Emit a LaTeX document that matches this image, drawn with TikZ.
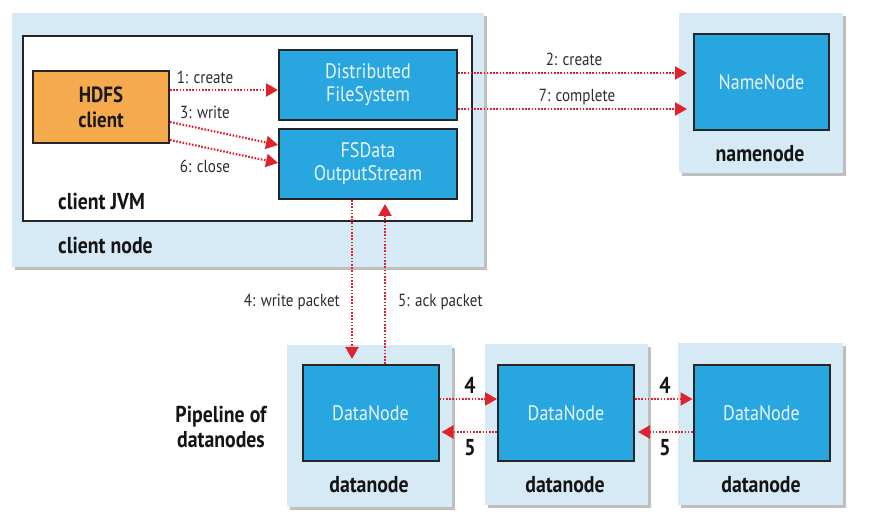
\documentclass[tikz,border=0pt]{standalone}
\usepackage{fontspec}
\setmainfont{PT Sans}[FakeStretch=0.86]
\usetikzlibrary{arrows.meta,shadows}
\definecolor{pale}{RGB}{214,234,246}
\definecolor{boxblue}{RGB}{40,166,223}
\definecolor{boxorange}{RGB}{246,170,78}
\definecolor{arrred}{RGB}{222,35,45}
\definecolor{lbl}{RGB}{45,45,45}
\definecolor{wtxt}{RGB}{232,245,252}
\tikzset{
  host/.style={fill=pale, draw=none, minimum width=#1, anchor=center, inner sep=0pt,
    drop shadow={shadow xshift=3pt, shadow yshift=-3pt, fill=black!45, opacity=0.55}},
  jvmbox/.style={fill=white, draw=black!85, line width=2pt, inner sep=0pt},
  bluebox/.style={fill=boxblue, draw=black!85, line width=2pt, inner sep=0pt, text=wtxt,
    font=\fontsize{21}{23}\selectfont, align=center},
  orangebox/.style={fill=boxorange, draw=black!85, line width=2pt, inner sep=0pt, text=black!90,
    font=\bfseries\fontsize{22}{25}\selectfont, align=center},
  steplbl/.style={text=lbl, font=\fontsize{17.5}{19}\selectfont, inner sep=1pt},
  boldlbl/.style={text=black!92, font=\bfseries\fontsize{23}{24}\selectfont, inner sep=1pt, align=center},
  arr/.style={draw=arrred, line width=2.2pt, dash pattern=on 1.6pt off 1.6pt,
    -{Triangle[length=12pt,width=13pt]}, arrred},
}
\begin{document}
\begin{tikzpicture}[x=1pt,y=-1pt]
\useasboundingbox[fill=white] (0,0) rectangle (879,518);
% host boxes
\node[host=472pt, minimum height=254pt] (clientnode) at (248,140) {};
\node[host=164pt, minimum height=160pt] (namehost) at (761,93) {};
\node[host=165pt, minimum height=162pt] (dnh1) at (369.5,426) {};
\node[host=163pt, minimum height=161pt] (dnh2) at (566.5,424.5) {};
\node[host=165pt, minimum height=162pt] (dnh3) at (760.5,424) {};
% client JVM
\node[jvmbox, minimum width=449pt, minimum height=185pt] (jvm) at (247.5,128.5) {};
\node[orangebox, minimum width=136pt, minimum height=72pt] (hdfs) at (101,107) {HDFS\\client};
\node[bluebox, minimum width=178pt, minimum height=70pt] (dfs) at (368,85) {Distributed\\FileSystem};
\node[bluebox, minimum width=178pt, minimum height=70pt] (fsd) at (368,164) {FSData\\OutputStream};
\node[bluebox, minimum width=135pt, minimum height=96pt] (nn) at (761.5,82) {NameNode};
\node[bluebox, minimum width=136pt, minimum height=96pt] (dn1) at (370.5,413) {DataNode};
\node[bluebox, minimum width=136pt, minimum height=96pt] (dn2) at (566,413) {DataNode};
\node[bluebox, minimum width=136pt, minimum height=96pt] (dn3) at (761.5,413) {DataNode};
% bold labels
\node[boldlbl, anchor=west] (ljvm) at (57,201) {client JVM};
\node[boldlbl, anchor=west] (lcn) at (57,245) {client node};
\node[boldlbl] (lnn) at (760,154) {namenode};
\node[boldlbl] (ld1) at (369,485) {datanode};
\node[boldlbl] (ld2) at (565,485) {datanode};
\node[boldlbl] (ld3) at (761,485) {datanode};
\node[boldlbl, font=\bfseries\fontsize{23}{24.5}\selectfont] (lpipe) at (221,427) {Pipeline of\\datanodes};
% arrows
\draw[arr] ([yshift=17pt]hdfs.east) -- ([yshift=-5pt]dfs.west);
\draw[arr] ([yshift=-15pt]hdfs.east) -- ([yshift=19pt]fsd.west);
\draw[arr] ([yshift=-33pt]hdfs.east) -- ([yshift=1pt]fsd.west);
\draw[arr] ([yshift=12pt]dfs.east) -- ([xshift=-6pt,yshift=9pt]nn.west);
\draw[arr] ([yshift=-24pt]dfs.east) -- ([xshift=-6pt,yshift=-27pt]nn.west);
\draw[arr, shorten >=5pt] ([xshift=-16pt]fsd.south) -- ([xshift=-16pt]fsd.south |- dn1.north);
\draw[arr, shorten >=4pt] ([xshift=17pt]fsd.south |- dn1.north) -- ([xshift=17pt]fsd.south);
\draw[arr] ([yshift=14pt]dn1.east) -- ([yshift=14pt]dn2.west);
\draw[arr, shorten >=2pt] ([yshift=-19pt]dn2.west) -- ([yshift=-19pt]dn1.east);
\draw[arr] ([yshift=14pt]dn2.east) -- ([yshift=14pt]dn3.west);
\draw[arr, shorten >=3pt] ([yshift=-19pt]dn3.west) -- ([yshift=-19pt]dn2.east);
% step labels
\node[steplbl] (l1) at (205,77) {1: create};
\node[steplbl] (l3) at (205,112) {3: write};
\node[steplbl] (l6) at (205,166) {6: close};
\node[steplbl] (l2) at (574,59) {2: create};
\node[steplbl] (l7) at (577,97) {7: complete};
\node[steplbl, anchor=east] (l4p) at (341,302) {4: write packet};
\node[steplbl, anchor=west] (l5p) at (397,302) {5: ack packet};
\node[boldlbl] (n4a) at (470,385) {4};
\node[boldlbl] (n5a) at (470,448) {5};
\node[boldlbl] (n4b) at (665,385) {4};
\node[boldlbl] (n5b) at (665,448) {5};
\end{tikzpicture}
\end{document}
